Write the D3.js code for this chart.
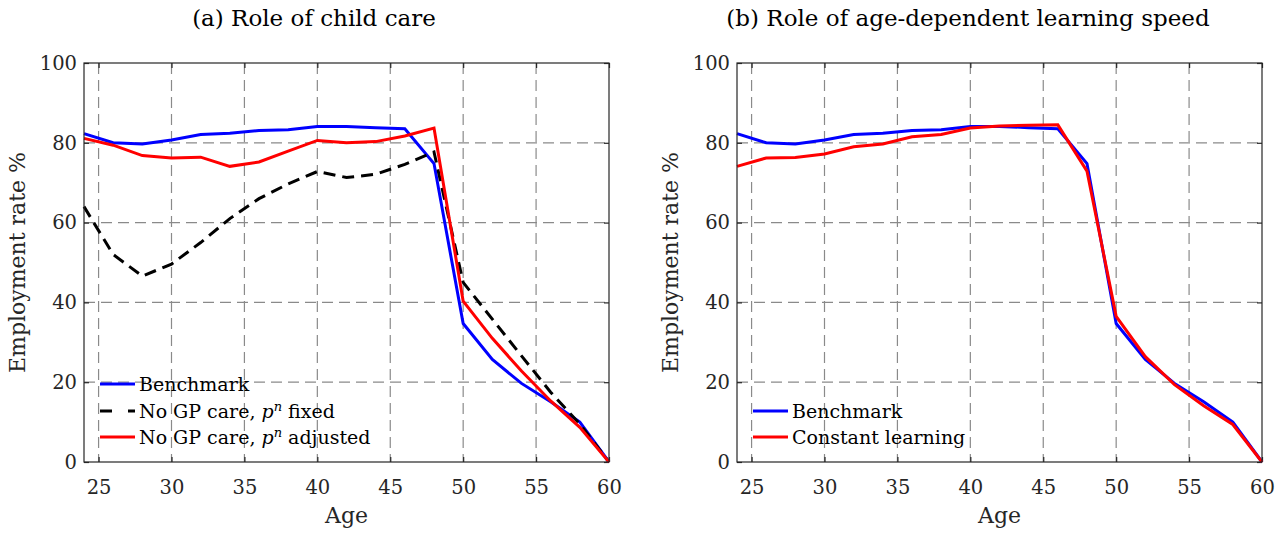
<!DOCTYPE html>
<html>
<head>
<meta charset="utf-8">
<script src="https://cdn.jsdelivr.net/npm/d3@7"></script>
<style>
  html, body { margin: 0; padding: 0; background: #fff; }
  svg { display: block; }
</style>
</head>
<body>
<svg id="chart" width="1286" height="533"></svg>
<script>
// ---------- data ----------
const ages = [24, 26, 28, 30, 32, 34, 36, 38, 40, 42, 44, 46, 48, 50, 52, 54, 56, 58, 60];
const benchmark = [82.3, 80.0, 79.7, 80.7, 82.1, 82.4, 83.1, 83.3, 84.1, 84.1, 83.8, 83.5, 74.8, 34.7, 25.7, 19.7, 15.1, 10.0, 0];
const noGPFixed = [64.0, 52.0, 46.6, 49.6, 55.0, 61.0, 66.0, 69.7, 72.8, 71.3, 72.1, 74.6, 77.7, 45.0, 35.8, 26.6, 17.5, 9.5, 0];
const noGPAdjusted = [81.1, 79.4, 76.8, 76.2, 76.4, 74.1, 75.2, 77.9, 80.6, 80.0, 80.3, 81.7, 83.7, 40.3, 31.0, 22.8, 15.3, 8.7, 0];
const constantLearning = [74.1, 76.2, 76.3, 77.2, 79.0, 79.7, 81.5, 82.1, 83.7, 84.2, 84.4, 84.5, 72.9, 36.5, 26.4, 19.4, 14.1, 9.4, 0];

const xTicks = [25, 30, 35, 40, 45, 50, 55, 60];
const yTicks = [0, 20, 40, 60, 80, 100];
const titles = ["(a) Role of child care", "(b) Role of age-dependent learning speed"];
const xLabel = "Age";
const yLabel = "Employment rate %";

const panelA = [
  { name: "Benchmark", values: benchmark, color: "#0000ff", dash: null },
  { name: "fixed", values: noGPFixed, color: "#000000", dash: "12,7" },
  { name: "adjusted", values: noGPAdjusted, color: "#ff0000", dash: null }
];
const panelB = [
  { name: "Benchmark", values: benchmark, color: "#0000ff", dash: null },
  { name: "Constant learning", values: constantLearning, color: "#ff0000", dash: null }
];

// ---------- drawing ----------
const svg = d3.select("#chart");
const serif = "DejaVu Serif";
const axisColor = "#262626";

function drawPanel(opts) {
  const { left, right, top, bottom, series, title, titleX, yLabelX, legendRows, legendX } = opts;
  const x = d3.scaleLinear().domain([24, 60]).range([left, right]);
  const y = d3.scaleLinear().domain([0, 100]).range([bottom, top]);
  const g = svg.append("g");

  // grid
  g.append("g").selectAll("line").data(xTicks.filter(t => t < 60)).join("line")
    .attr("x1", d => x(d)).attr("x2", d => x(d))
    .attr("y1", top).attr("y2", bottom)
    .attr("stroke", "#8a8a8a").attr("stroke-width", 1.2)
    .attr("stroke-dasharray", "11,6");
  g.append("g").selectAll("line").data(yTicks.filter(t => t > 0 && t < 100)).join("line")
    .attr("x1", left).attr("x2", right)
    .attr("y1", d => y(d)).attr("y2", d => y(d))
    .attr("stroke", "#8a8a8a").attr("stroke-width", 1.2)
    .attr("stroke-dasharray", "11,6");

  // axes via d3 (inward ticks on all four sides)
  const xAxis = g.append("g").attr("transform", `translate(0,${bottom})`)
    .call(d3.axisBottom(x).tickValues(xTicks).tickSize(-5).tickPadding(18));
  const xTop = g.append("g").attr("transform", `translate(0,${top})`)
    .call(d3.axisTop(x).tickValues(xTicks).tickSize(-5).tickFormat(""));
  const yAxis = g.append("g").attr("transform", `translate(${left},0)`)
    .call(d3.axisLeft(y).tickValues(yTicks).tickSize(-5).tickPadding(7));
  const yRight = g.append("g").attr("transform", `translate(${right},0)`)
    .call(d3.axisRight(y).tickValues(yTicks).tickSize(-5).tickFormat(""));
  [xAxis, xTop, yAxis, yRight].forEach(a => {
    a.select(".domain").remove();
    a.selectAll("line").attr("stroke", axisColor).attr("stroke-width", 1.2);
    a.selectAll("text").attr("font-family", serif).attr("font-size", 19.5).attr("fill", axisColor);
  });
  xAxis.selectAll("text").attr("dy", "0.71em");

  // lines
  const line = d3.line().x((d, i) => x(ages[i])).y(d => y(d));
  series.forEach(s => {
    g.append("path").datum(s.values)
      .attr("d", line)
      .attr("fill", "none")
      .attr("stroke", s.color)
      .attr("stroke-width", 3)
      .attr("stroke-linejoin", "miter")
      .attr("stroke-dasharray", s.dash);
  });

  // box
  g.append("rect").attr("x", left).attr("y", top)
    .attr("width", right - left).attr("height", bottom - top)
    .attr("fill", "none").attr("stroke", axisColor).attr("stroke-width", 1.2);

  // title
  svg.append("text").attr("x", titleX).attr("y", 26)
    .attr("text-anchor", "middle")
    .attr("font-family", serif).attr("font-size", 23).attr("fill", "#000")
    .text(title);

  // x label
  svg.append("text").attr("x", (left + right) / 2).attr("y", 523)
    .attr("text-anchor", "middle")
    .attr("font-family", serif).attr("font-size", 22).attr("fill", axisColor)
    .text(xLabel);

  // y label
  svg.append("text")
    .attr("transform", `translate(${yLabelX},${(top + bottom) / 2}) rotate(-90)`)
    .attr("text-anchor", "middle")
    .attr("font-family", serif).attr("font-size", 22).attr("fill", axisColor)
    .text(yLabel);

  // legend
  const lg = svg.append("g");
  legendRows.forEach((row, i) => {
    const s = series[i];
    lg.append("line")
      .attr("x1", legendX).attr("x2", legendX + 35)
      .attr("y1", row.y).attr("y2", row.y)
      .attr("stroke", s.color).attr("stroke-width", 3)
      .attr("stroke-dasharray", s.dash ? "12,16" : null);
    const t = lg.append("text").attr("x", legendX + 39).attr("y", row.y + 7)
      .attr("font-family", serif).attr("font-size", 19).attr("fill", "#000");
    row.parts.forEach(p => {
      const ts = t.append("tspan").text(p.text);
      if (p.italic) ts.attr("font-style", "italic");
      if (p.sup) ts.attr("baseline-shift", "super").attr("font-size", 13);
    });
  });
}

drawPanel({
  left: 84, right: 609, top: 63, bottom: 462,
  series: panelA, title: titles[0], titleX: 314, yLabelX: 25, legendX: 100,
  legendRows: [
    { y: 384, parts: [{ text: "Benchmark" }] },
    { y: 411, parts: [{ text: "No GP care, " }, { text: "p", italic: true }, { text: "n", italic: true, sup: true }, { text: " fixed" }] },
    { y: 437, parts: [{ text: "No GP care, " }, { text: "p", italic: true }, { text: "n", italic: true, sup: true }, { text: " adjusted" }] }
  ]
});

drawPanel({
  left: 737, right: 1262, top: 63, bottom: 462,
  series: panelB, title: titles[1], titleX: 968, yLabelX: 678, legendX: 753,
  legendRows: [
    { y: 411, parts: [{ text: "Benchmark" }] },
    { y: 437, parts: [{ text: "Constant learning" }] }
  ]
});
</script>
</body>
</html>
